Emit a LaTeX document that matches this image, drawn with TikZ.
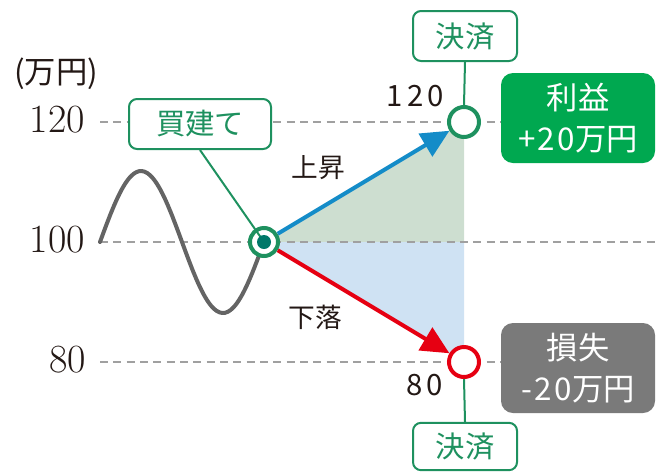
\documentclass[tikz,border=0pt]{standalone}
\usepackage{fontspec}
\newfontfamily\jp{Noto Sans CJK JP}
\usetikzlibrary{arrows.meta}
\definecolor{kgreen}{RGB}{30,145,95}
\definecolor{pgreen}{RGB}{0,168,80}
\definecolor{lgray}{RGB}{122,122,122}
\definecolor{sgray}{RGB}{100,100,100}
\definecolor{dgray}{RGB}{160,160,160}
\definecolor{kblue}{RGB}{20,140,200}
\definecolor{kred}{RGB}{230,0,18}
\definecolor{shgreen}{RGB}{205,222,208}
\definecolor{shblue}{RGB}{207,226,243}
\definecolor{kteal}{RGB}{0,120,105}
\definecolor{ktext}{RGB}{35,24,21}
\begin{document}
\begin{tikzpicture}[x=0.75pt,y=-0.75pt,
  gbox/.style={draw=kgreen, line width=1.5pt, rounded corners=6pt, fill=white, text=kgreen,
    font=\jp\fontsize{22}{24}\selectfont, inner sep=0pt},
  rbox/.style={rounded corners=9pt, text=white, align=center, inner sep=0pt,
    minimum width=115.5pt, minimum height=67.5pt, font=\jp\fontsize{23.5}{31}\selectfont},
  grid/.style={dgray, line width=1.5pt, dash pattern=on 6pt off 4pt},
  axnum/.style={text=ktext, inner sep=0pt, anchor=east, font=\fontsize{30}{30}\selectfont},
  lab/.style={text=ktext, inner sep=0pt, font=\jp\fontsize{20}{22}\selectfont},
  snum/.style={text=ktext, inner sep=0pt, font=\jp\fontsize{22}{24}\selectfont\addfontfeature{LetterSpace=14}},
  ring/.style={circle, line width=3pt, fill=white, minimum size=22.5pt, inner sep=0pt},
  conn/.style={kgreen, line width=1.5pt},
  arr/.style={line width=3pt, -{Triangle[length=21pt, width=19.5pt]}}]
\useasboundingbox (0,0) rectangle (656,472);

% shaded areas
\coordinate (S) at (264,242);
\coordinate (T) at (464,122);
\coordinate (B) at (464,362);
\coordinate (M) at (464,242);
\fill[shgreen] (S) -- (T) -- (M) -- cycle;
\fill[shblue] (S) -- (M) -- (B) -- cycle;

% grid lines
\coordinate (g1a) at (100,122); \coordinate (g1b) at (501,122);
\coordinate (g2a) at (100,242); \coordinate (g2b) at (656,242);
\coordinate (g3a) at (100,362); \coordinate (g3b) at (501,362);
\draw[grid] (g1a) -- (g1b);
\draw[grid] (g2a) -- (g2b);
\draw[grid] (g3a) -- (g3b);

% axis labels
\node[axnum] (n120) at (85,120) {120};
\node[axnum] (n100) at (85,240) {100};
\node[axnum] (n80) at (86,360) {80};
\node[text=ktext, inner sep=0pt, font=\jp\fontsize{23.5}{26}\selectfont] (unit) at (56,74) {(万円)};

% sine wave
\draw[sgray, line width=3pt, line cap=round, smooth, samples=60, domain=0:164]
  plot ({100+\x}, {242-71*sin(\x/164*360)});

% boxes
\node[gbox, minimum width=106.5pt, minimum height=37.5pt] (buy) at (200,124) {買建て};
\node[gbox, minimum width=78pt, minimum height=37.5pt] (set1) at (465,36) {決済};
\node[gbox, minimum width=78pt, minimum height=35.5pt] (set2) at (465,446.5) {決済};
\node[rbox, fill=pgreen] (profit) at (578,118) {利益\\{\addfontfeature{LetterSpace=8}+20}万円};
\node[rbox, fill=lgray] (loss) at (578,368) {損失\\{\addfontfeature{LetterSpace=8}-20}万円};

% circles
\node[ring, draw=kgreen, minimum size=21pt] (start) at (S) {};
\draw[conn] (buy.south) -- (start.center);
\node[circle, fill=kteal, minimum size=10.5pt, inner sep=0pt] (dot) at (S) {};
\node[ring, draw=kgreen] (top) at (T) {};
\node[ring, draw=kred] (bot) at (B) {};
\draw[conn] (set1.south) -- (top.north);
\draw[conn] (bot.south) -- (set2.north);

% arrows
\draw[arr, kblue] (start) -- (top);
\draw[arr, kred] (start) -- (bot);

% labels
\node[lab] (up) at (318,168) {上昇};
\node[lab] (down) at (315,317) {下落};
\node[snum, anchor=east] (s120) at (444,96) {120};
\node[snum, anchor=east] (s80) at (443,385) {80};
\end{tikzpicture}
\end{document}
